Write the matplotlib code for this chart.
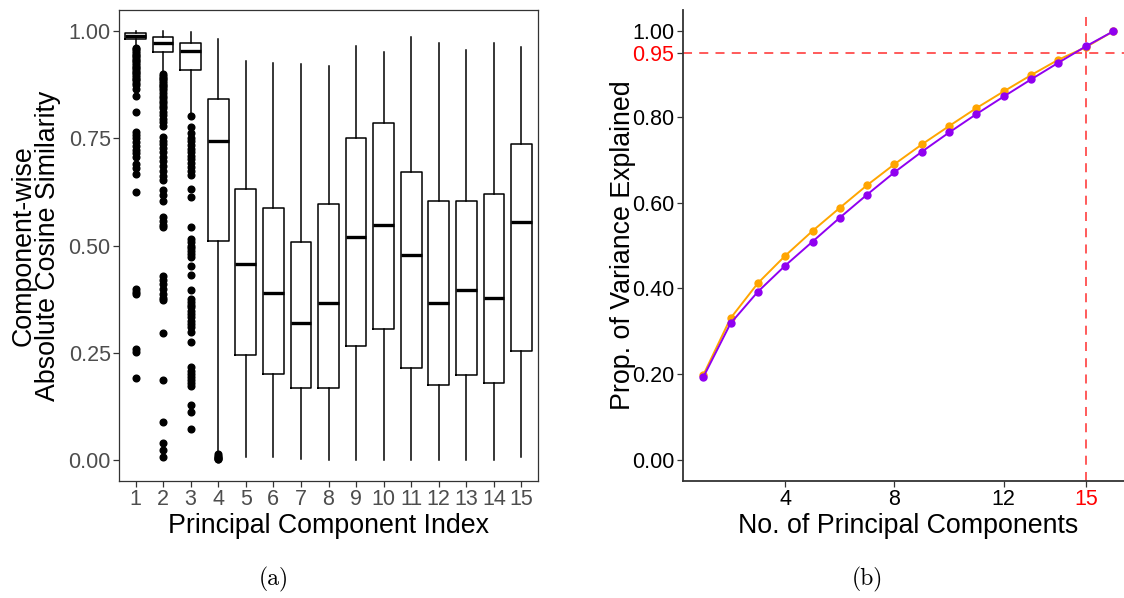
import matplotlib
matplotlib.use("Agg")
import matplotlib.pyplot as plt

plt.rcParams['font.family'] = ['Liberation Sans', 'DejaVu Sans']

# ---------------- Data: panel (a) ----------------
components = list(range(1, 16))
comp_labels = [str(c) for c in components]
q1 = [0.982, 0.951, 0.909, 0.510, 0.244, 0.199, 0.168, 0.168, 0.265, 0.306, 0.214, 0.175, 0.197, 0.179, 0.254]
med = [0.990, 0.973, 0.955, 0.744, 0.456, 0.390, 0.318, 0.365, 0.521, 0.549, 0.477, 0.366, 0.396, 0.377, 0.556]
q3 = [0.996, 0.986, 0.973, 0.841, 0.631, 0.588, 0.508, 0.596, 0.752, 0.787, 0.671, 0.605, 0.605, 0.621, 0.737]
whislo = [0.965, 0.904, 0.809, 0.015, 0.005, 0.005, 0.002, 0.0, 0.0, 0.0, 0.0, 0.0, 0.0, 0.0, 0.005]
whishi = [1.000, 1.000, 0.998, 0.983, 0.930, 0.926, 0.925, 0.920, 0.966, 0.952, 0.986, 0.973, 0.957, 0.974, 0.963]

outliers_1 = [0.962, 0.958, 0.954, 0.950, 0.946, 0.942, 0.938, 0.934, 0.930, 0.926, 0.922, 0.918,
              0.914, 0.910, 0.906, 0.902, 0.898, 0.894, 0.890, 0.886, 0.880, 0.874, 0.866, 0.848,
              0.811, 0.766, 0.758, 0.750, 0.742, 0.733, 0.724, 0.715, 0.707, 0.691, 0.680, 0.668,
              0.625, 0.398, 0.392, 0.386, 0.258, 0.252, 0.190]
outliers_2 = [0.900, 0.896, 0.892, 0.888, 0.884, 0.880, 0.876, 0.872, 0.868, 0.862, 0.856, 0.850,
              0.844, 0.838, 0.832, 0.826, 0.820, 0.812, 0.804, 0.796, 0.788, 0.780, 0.754, 0.745,
              0.737, 0.728, 0.718, 0.707, 0.697, 0.686, 0.675, 0.663, 0.652, 0.630, 0.618, 0.605,
              0.566, 0.557, 0.549, 0.543, 0.428, 0.420, 0.410, 0.399, 0.387, 0.378, 0.372, 0.296,
              0.187, 0.088, 0.039, 0.022, 0.006]
outliers_3 = [0.802, 0.777, 0.762, 0.752, 0.743, 0.735, 0.726, 0.718, 0.710, 0.701, 0.692, 0.683,
              0.674, 0.664, 0.633, 0.613, 0.543, 0.516, 0.508, 0.500, 0.494, 0.488, 0.481, 0.473,
              0.451, 0.432, 0.397, 0.376, 0.369, 0.362, 0.356, 0.348, 0.340, 0.332, 0.324, 0.316,
              0.310, 0.298, 0.274, 0.216, 0.208, 0.200, 0.192, 0.185, 0.178, 0.173, 0.127, 0.111,
              0.071]
outliers_4 = [0.012, 0.009, 0.006, 0.004, 0.002, 0.001]
outliers = [outliers_1, outliers_2, outliers_3, outliers_4] + [[] for _ in range(11)]

# ---------------- Data: panel (b) ----------------
n_pc = list(range(1, 17))
prop_orange = [0.197, 0.330, 0.412, 0.476, 0.534, 0.588, 0.641, 0.690, 0.736, 0.779, 0.821, 0.860, 0.898, 0.934, 0.963, 1.000]
prop_purple = [0.192, 0.318, 0.392, 0.453, 0.509, 0.565, 0.619, 0.671, 0.719, 0.764, 0.807, 0.848, 0.888, 0.927, 0.965, 1.000]
threshold = 0.95
n_needed = 15
x_ticks_b = [4, 8, 12, 15]
y_ticks_b = [0.00, 0.20, 0.40, 0.60, 0.80, 0.95, 1.00]
y_ticks_a = [0.00, 0.25, 0.50, 0.75, 1.00]

W, H = 1124, 598
fig = plt.figure(figsize=(W / 100, H / 100), dpi=100)

def px_axes(x0, y0, x1, y1):
    return fig.add_axes([x0 / W, 1 - y1 / H, (x1 - x0) / W, (y1 - y0) / H])

# ---------------- Panel (a) ----------------
axa = px_axes(119, 10, 538, 481)
stats = []
for i in range(len(components)):
    stats.append(dict(med=med[i], q1=q1[i], q3=q3[i], whislo=whislo[i], whishi=whishi[i],
                      fliers=outliers[i], label=comp_labels[i]))
axa.bxp(stats, positions=components, widths=0.75, showcaps=False, patch_artist=False,
        boxprops=dict(color='black', linewidth=1.1),
        whiskerprops=dict(color='black', linewidth=1.1),
        medianprops=dict(color='black', linewidth=2.4),
        flierprops=dict(marker='o', markerfacecolor='black', markeredgecolor='black',
                        markersize=4.8, linestyle='none'))
axa.set_xlim(0.4, 15.6)
axa.set_ylim(-0.05, 1.05)
axa.set_yticks(y_ticks_a)
axa.set_yticklabels([f"{v:.2f}" for v in y_ticks_a])
axa.set_xticks(components)
axa.set_xticklabels(comp_labels)
axa.tick_params(axis='both', labelsize=15.5, labelcolor='#4D4D4D', color='#333333',
                length=4, width=0.9, pad=2)
for s in axa.spines.values():
    s.set_color('#333333')
    s.set_linewidth(0.9)
axa.set_xlabel("Principal Component Index", fontsize=19.3, labelpad=2)
axa.set_ylabel("Component-wise\nAbsolute Cosine Similarity", fontsize=19.3, linespacing=0.95)
axa.yaxis.set_label_coords(-0.138, 0.5)

# ---------------- Panel (b) ----------------
axb = px_axes(682.7, 10, 1133.6, 481)
red_line = '#FF4D4D'
axb.axhline(threshold, color=red_line, linestyle=(0, (5, 4)), linewidth=1.3, zorder=1)
axb.axvline(n_needed, color=red_line, linestyle=(0, (5, 4)), linewidth=1.3, zorder=1)
axb.plot(n_pc, prop_orange, color='#FFA500', linewidth=1.4, marker='o', markersize=5,
         zorder=2)
axb.plot(n_pc, prop_purple, color='#9000F0', linewidth=1.4, marker='o', markersize=5,
         zorder=3)
axb.set_xlim(0.25, 16.75)
axb.set_ylim(-0.05, 1.05)
axb.set_xticks(x_ticks_b)
axb.set_xticklabels([str(v) for v in x_ticks_b])
axb.set_yticks(y_ticks_b)
axb.set_yticklabels([f"{v:.2f}" for v in y_ticks_b])
axb.tick_params(axis='both', labelsize=15.5, labelcolor='black', color='#333333',
                length=4, width=0.9, pad=2)
for lab, v in zip(axb.get_yticklabels(), y_ticks_b):
    if abs(v - threshold) < 1e-9:
        lab.set_color('red')
for lab, v in zip(axb.get_xticklabels(), x_ticks_b):
    if v == n_needed:
        lab.set_color('red')
axb.spines['top'].set_visible(False)
axb.spines['right'].set_visible(False)
for s in ('left', 'bottom'):
    axb.spines[s].set_color('#333333')
    axb.spines[s].set_linewidth(1.3)
axb.set_xlabel("No. of Principal Components", fontsize=19.3, labelpad=2)
axb.set_ylabel("Prop. of Variance Explained", fontsize=19.3)
axb.yaxis.set_label_coords(-0.104, 0.5)

# ---------------- Captions ----------------
fig.text(274 / W, 1 - 579 / H, "(a)", family='cmr10', fontsize=17, ha='center', va='center')
fig.text(867 / W, 1 - 579 / H, "(b)", family='cmr10', fontsize=17, ha='center', va='center')

fig.savefig("out.png", dpi=100)
